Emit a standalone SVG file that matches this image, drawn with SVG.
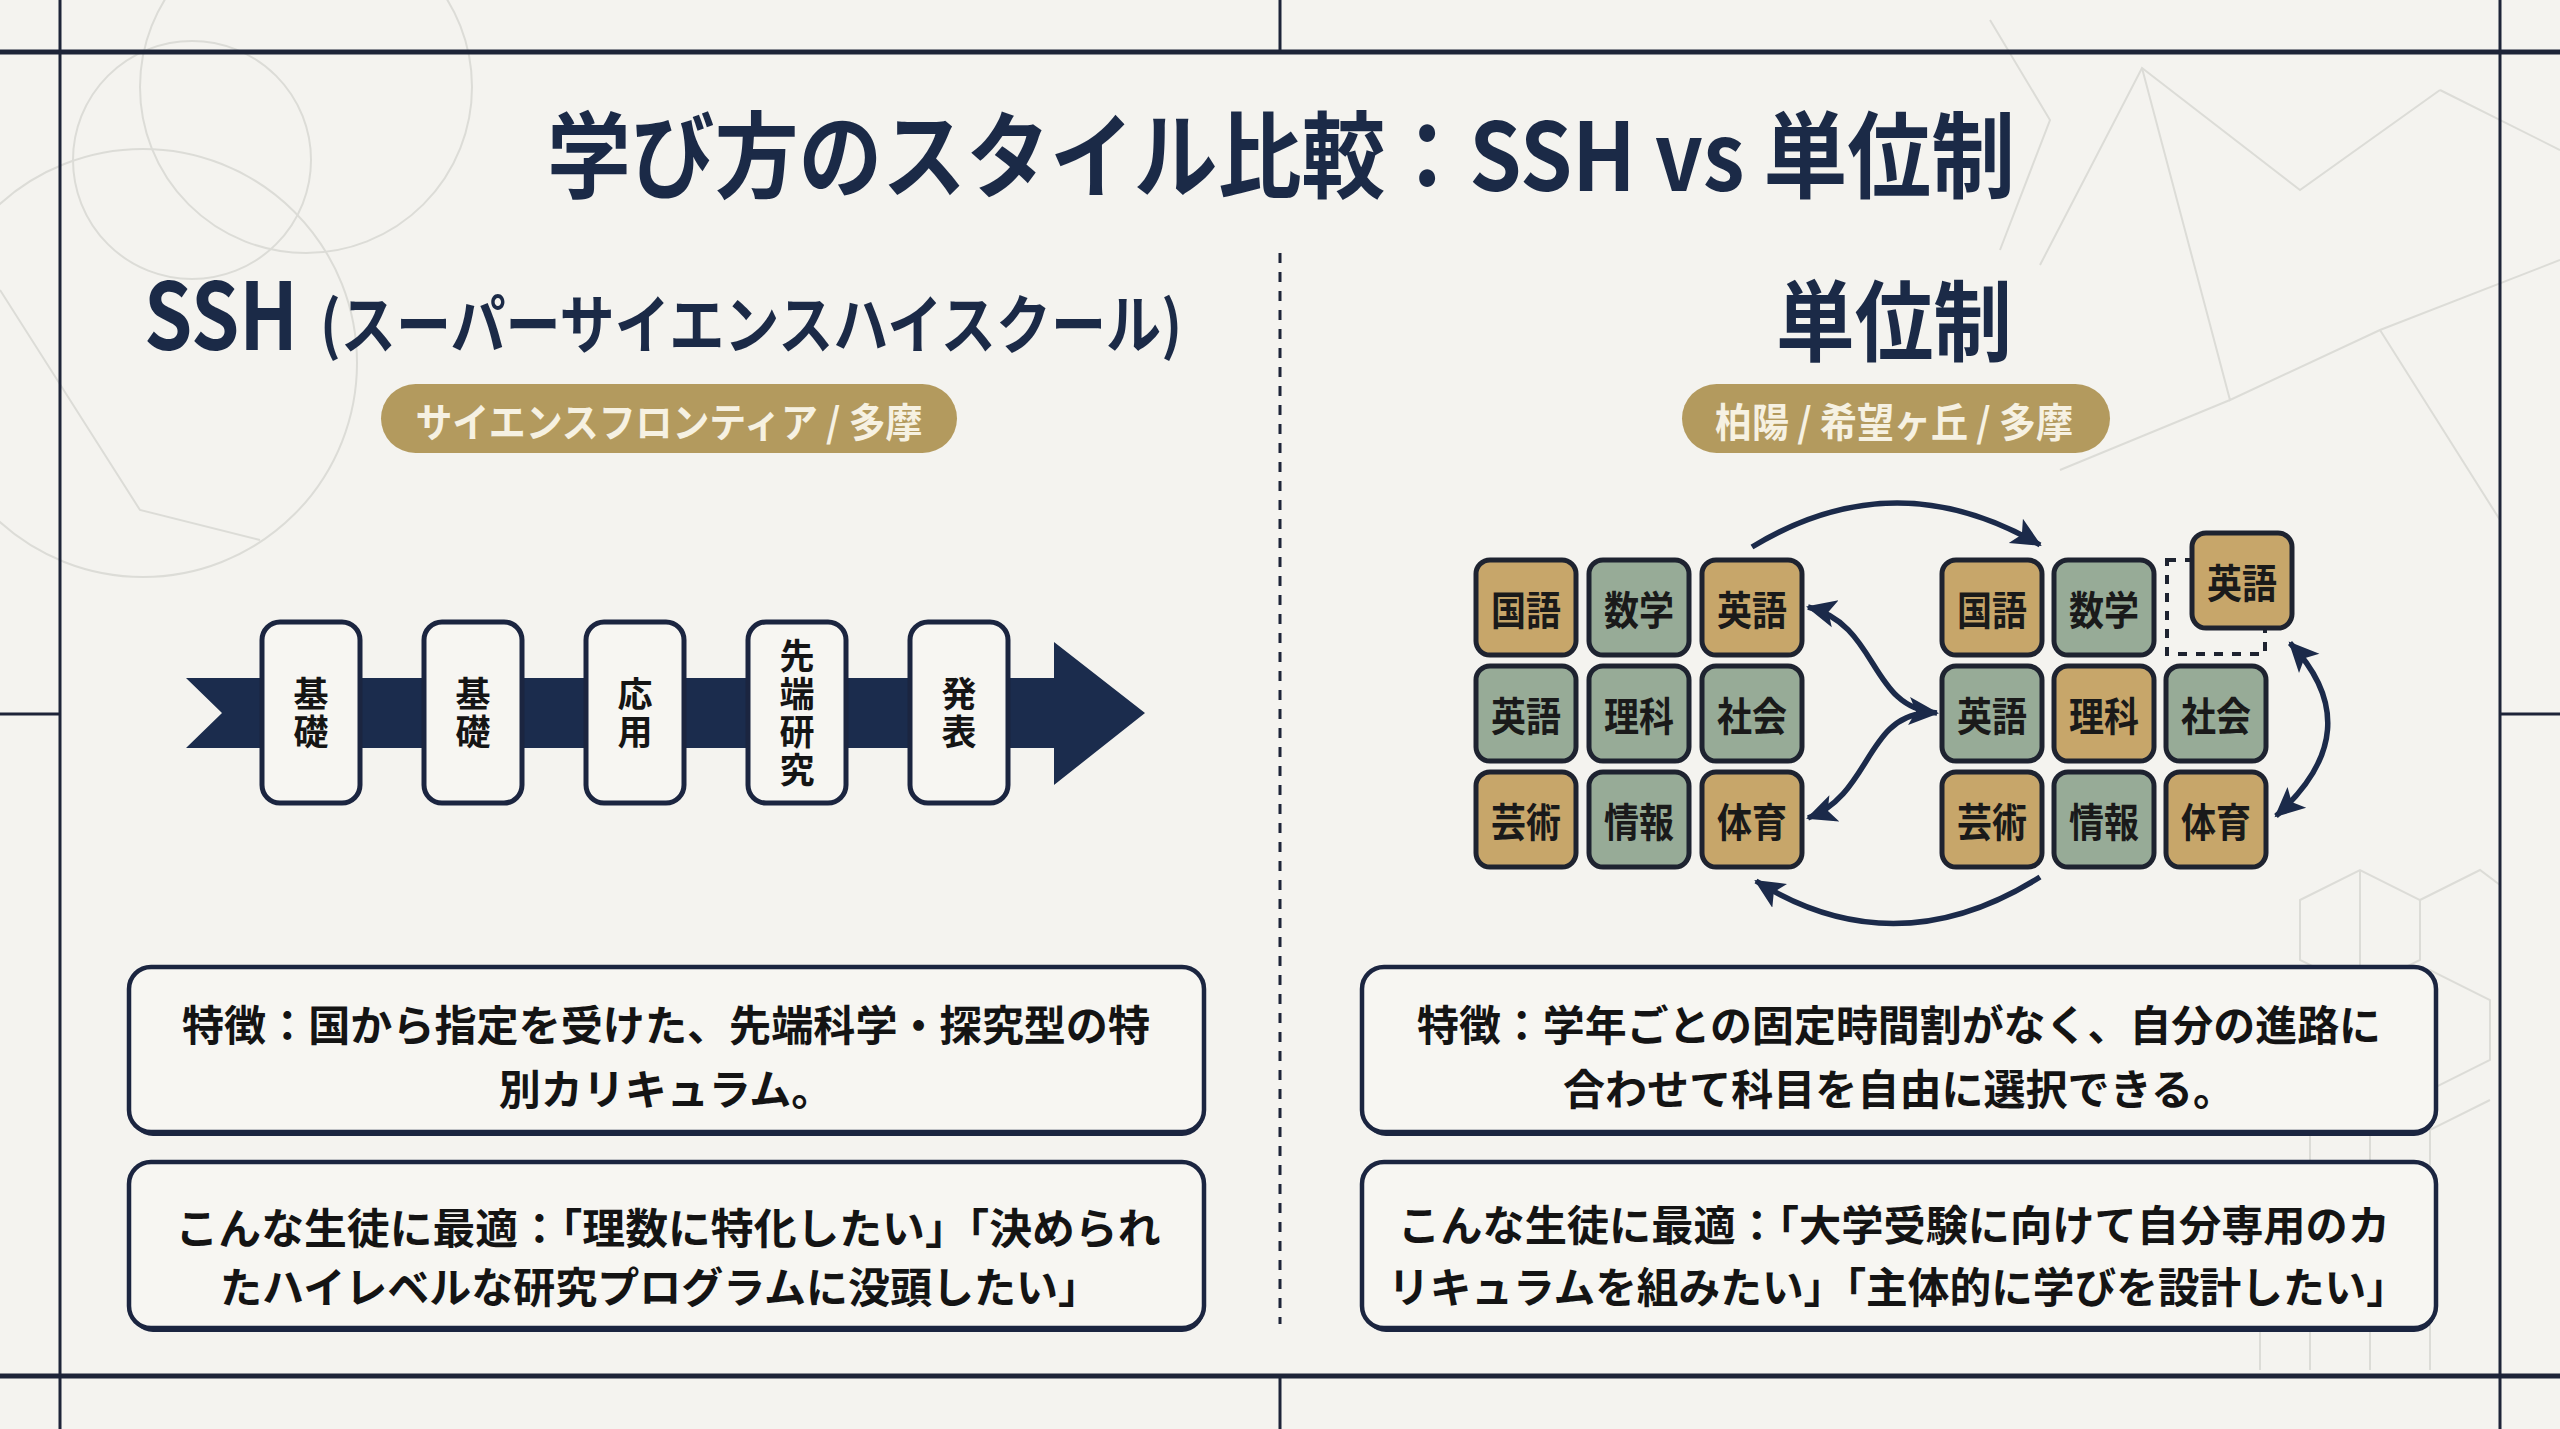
<svg xmlns="http://www.w3.org/2000/svg" width="2560" height="1429" viewBox="0 0 2560 1429">
<defs>
<style>
.jp{font-family:"Noto Sans CJK JP","Noto Sans",sans-serif;font-weight:700}
.navy{fill:#1b2a47}
.frame{stroke:#1d2438;fill:none}
.deco{stroke:#dcdcd7;stroke-width:2;fill:none}
.stepbox{fill:#f7f6f2;stroke:#1b2540;stroke-width:5}
.steptxt{font-size:35px;fill:#151515;text-anchor:middle;writing-mode:vertical-rl;letter-spacing:3px}
.tile{stroke:#1e2330;stroke-width:5}
.gold{fill:#c7a66a}
.green{fill:#97ab97}
.tiletxt{font-size:40px;fill:#1a1a1a;text-anchor:middle;dominant-baseline:central}
.pill{fill:#b39a5e}
.pilltxt{font-size:40px;fill:#f6f1e2;text-anchor:middle;dominant-baseline:central}
.card{fill:#f7f6f2;stroke:#1b2540;stroke-width:4.5}
.cardsh{fill:#1b2540}
.cardtxt{font-size:42px;fill:#141414;text-anchor:middle;dominant-baseline:central}
.conn{fill:none;stroke:#1b2a4a;stroke-width:5.5}
</style>
<marker id="ah" markerUnits="userSpaceOnUse" markerWidth="34" markerHeight="30" refX="28" refY="15" orient="auto-start-reverse" viewBox="0 0 34 30">
<path d="M0,1 L30,15 L0,29 L7,15 Z" fill="#1b2a4a"/>
</marker>
</defs>

<rect x="0" y="0" width="2560" height="1429" fill="#f4f3ef"/>

<g id="decoration">
<circle class="deco" cx="306" cy="87" r="166"/>
<circle class="deco" cx="192" cy="160" r="119"/>
<circle class="deco" cx="143" cy="363" r="214"/>
<path class="deco" d="M0,290 L140,510 L260,540"/>
<path class="deco" d="M2040,265 L2142,68 L2300,190 L2440,90"/>
<path class="deco" d="M2142,68 L2230,400 L2380,330 L2560,260"/>
<path class="deco" d="M2380,330 L2500,520 M2230,400 L2060,470"/>
<path class="deco" d="M1990,20 L2050,120 L2000,250 M2440,90 L2560,150"/>
<path class="deco" d="M2300,900 L2360,870 L2420,900 L2420,960 L2360,990 L2300,960 Z M2360,870 L2360,990 M2420,900 L2480,870 L2500,885"/>
<path class="deco" d="M2250,1000 L2310,970 L2370,1000 L2370,1060 L2310,1090 L2250,1060 Z M2370,1000 L2430,970 L2490,1000 L2490,1060 L2430,1090 L2370,1060"/>
<path class="deco" d="M2250,1100 L2310,1130 L2370,1100 L2430,1130 L2490,1100 M2310,1130 L2310,1370 M2370,1100 L2370,1370 M2430,1130 L2430,1370 M2260,1200 L2260,1370"/>
</g>

<g id="frame">
<line class="frame" x1="0" y1="52" x2="2560" y2="52" stroke-width="5"/>
<line class="frame" x1="0" y1="1376" x2="2560" y2="1376" stroke-width="5"/>
<line class="frame" x1="60" y1="0" x2="60" y2="1429" stroke-width="3"/>
<line class="frame" x1="2500" y1="0" x2="2500" y2="1429" stroke-width="3"/>
<line class="frame" x1="1280" y1="0" x2="1280" y2="52" stroke-width="3"/>
<line class="frame" x1="1280" y1="1376" x2="1280" y2="1429" stroke-width="3"/>
<line class="frame" x1="0" y1="714" x2="60" y2="714" stroke-width="3"/>
<line class="frame" x1="2500" y1="714" x2="2560" y2="714" stroke-width="3"/>
<line class="frame" x1="1280" y1="253" x2="1280" y2="1324" stroke-width="3" stroke-dasharray="10 9"/>
</g>

<g id="title">
<text class="jp navy" x="1281" y="150" font-size="94" text-anchor="middle" dominant-baseline="central" textLength="1468" lengthAdjust="spacingAndGlyphs">学び方のスタイル比較：SSH vs 単位制</text>
</g>

<g id="ssh-heading">
<text class="jp navy" x="144" y="350" font-size="93" textLength="154" lengthAdjust="spacingAndGlyphs">SSH</text>
<text class="jp navy" x="320" y="320" font-size="64" dominant-baseline="central" textLength="862" lengthAdjust="spacingAndGlyphs">(スーパーサイエンスハイスクール)</text>
</g>
<g id="ssh-pill">
<rect class="pill" x="381" y="384" width="576" height="69" rx="34.5"/>
<text class="jp pilltxt" x="669" y="420" textLength="507" lengthAdjust="spacingAndGlyphs">サイエンスフロンティア / 多摩</text>
</g>

<g id="credit-heading">
<text class="jp navy" x="1894" y="315" font-size="88" text-anchor="middle" dominant-baseline="central" textLength="236" lengthAdjust="spacingAndGlyphs">単位制</text>
</g>
<g id="credit-pill">
<rect class="pill" x="1682" y="384" width="428" height="69" rx="34.5"/>
<text class="jp pilltxt" x="1894" y="420" textLength="358" lengthAdjust="spacingAndGlyphs">柏陽 / 希望ヶ丘 / 多摩</text>
</g>

<g id="ssh-flow-arrow">
<polygon fill="#1b2c4d" points="186,678 1054,678 1054,642 1145,713 1054,785 1054,748 186,748 222,713"/>
</g>
<g id="step-1">
<rect class="stepbox" x="262" y="622" width="98" height="181" rx="18"/>
<text class="jp steptxt" x="311" y="714">基礎</text>
</g>
<g id="step-2">
<rect class="stepbox" x="424" y="622" width="98" height="181" rx="18"/>
<text class="jp steptxt" x="473" y="714">基礎</text>
</g>
<g id="step-3">
<rect class="stepbox" x="586" y="622" width="98" height="181" rx="18"/>
<text class="jp steptxt" x="635" y="714">応用</text>
</g>
<g id="step-4">
<rect class="stepbox" x="748" y="622" width="98" height="181" rx="18"/>
<text class="jp steptxt" x="797" y="714">先端研究</text>
</g>
<g id="step-5">
<rect class="stepbox" x="910" y="622" width="98" height="181" rx="18"/>
<text class="jp steptxt" x="959" y="714">発表</text>
</g>

<g id="grid-before">
<g id="b-kokugo"><rect class="tile gold" x="1476" y="560" width="100" height="95" rx="14"/><text class="jp tiletxt" x="1526" y="608" textLength="70" lengthAdjust="spacingAndGlyphs">国語</text></g>
<g id="b-sugaku"><rect class="tile green" x="1589" y="560" width="100" height="95" rx="14"/><text class="jp tiletxt" x="1639" y="608" textLength="70" lengthAdjust="spacingAndGlyphs">数学</text></g>
<g id="b-eigo1"><rect class="tile gold" x="1702" y="560" width="100" height="95" rx="14"/><text class="jp tiletxt" x="1752" y="608" textLength="70" lengthAdjust="spacingAndGlyphs">英語</text></g>
<g id="b-eigo2"><rect class="tile green" x="1476" y="666" width="100" height="95" rx="14"/><text class="jp tiletxt" x="1526" y="714" textLength="70" lengthAdjust="spacingAndGlyphs">英語</text></g>
<g id="b-rika"><rect class="tile green" x="1589" y="666" width="100" height="95" rx="14"/><text class="jp tiletxt" x="1639" y="714" textLength="70" lengthAdjust="spacingAndGlyphs">理科</text></g>
<g id="b-shakai"><rect class="tile green" x="1702" y="666" width="100" height="95" rx="14"/><text class="jp tiletxt" x="1752" y="714" textLength="70" lengthAdjust="spacingAndGlyphs">社会</text></g>
<g id="b-geijutsu"><rect class="tile gold" x="1476" y="772" width="100" height="95" rx="14"/><text class="jp tiletxt" x="1526" y="820" textLength="70" lengthAdjust="spacingAndGlyphs">芸術</text></g>
<g id="b-joho"><rect class="tile green" x="1589" y="772" width="100" height="95" rx="14"/><text class="jp tiletxt" x="1639" y="820" textLength="70" lengthAdjust="spacingAndGlyphs">情報</text></g>
<g id="b-taiiku"><rect class="tile gold" x="1702" y="772" width="100" height="95" rx="14"/><text class="jp tiletxt" x="1752" y="820" textLength="70" lengthAdjust="spacingAndGlyphs">体育</text></g>
</g>

<g id="grid-after">
<g id="a-slot"><rect x="2167" y="560" width="98" height="94" fill="none" stroke="#1e2330" stroke-width="4" stroke-dasharray="9 9"/></g>
<g id="a-kokugo"><rect class="tile gold" x="1942" y="560" width="100" height="95" rx="14"/><text class="jp tiletxt" x="1992" y="608" textLength="70" lengthAdjust="spacingAndGlyphs">国語</text></g>
<g id="a-sugaku"><rect class="tile green" x="2054" y="560" width="100" height="95" rx="14"/><text class="jp tiletxt" x="2104" y="608" textLength="70" lengthAdjust="spacingAndGlyphs">数学</text></g>
<g id="a-eigo-moved"><rect class="tile gold" x="2192" y="533" width="100" height="95" rx="14"/><text class="jp tiletxt" x="2242" y="581" textLength="70" lengthAdjust="spacingAndGlyphs">英語</text></g>
<g id="a-eigo2"><rect class="tile green" x="1942" y="666" width="100" height="95" rx="14"/><text class="jp tiletxt" x="1992" y="714" textLength="70" lengthAdjust="spacingAndGlyphs">英語</text></g>
<g id="a-rika"><rect class="tile gold" x="2054" y="666" width="100" height="95" rx="14"/><text class="jp tiletxt" x="2104" y="714" textLength="70" lengthAdjust="spacingAndGlyphs">理科</text></g>
<g id="a-shakai"><rect class="tile green" x="2166" y="666" width="100" height="95" rx="14"/><text class="jp tiletxt" x="2216" y="714" textLength="70" lengthAdjust="spacingAndGlyphs">社会</text></g>
<g id="a-geijutsu"><rect class="tile gold" x="1942" y="772" width="100" height="95" rx="14"/><text class="jp tiletxt" x="1992" y="820" textLength="70" lengthAdjust="spacingAndGlyphs">芸術</text></g>
<g id="a-joho"><rect class="tile green" x="2054" y="772" width="100" height="95" rx="14"/><text class="jp tiletxt" x="2104" y="820" textLength="70" lengthAdjust="spacingAndGlyphs">情報</text></g>
<g id="a-taiiku"><rect class="tile gold" x="2166" y="772" width="100" height="95" rx="14"/><text class="jp tiletxt" x="2216" y="820" textLength="70" lengthAdjust="spacingAndGlyphs">体育</text></g>
</g>

<g id="connectors">
<path class="conn" d="M1752,547 Q1895,460 2040,545" marker-end="url(#ah)"/>
<path class="conn" d="M2040,877 Q1895,968 1756,881" marker-end="url(#ah)"/>
<path class="conn" d="M1808,607 C1880,625 1868,708 1937,713" marker-start="url(#ah)" marker-end="url(#ah)"/>
<path class="conn" d="M1808,818 C1870,795 1866,718 1925,713" marker-start="url(#ah)"/>
<path class="conn" d="M2290,643 Q2372,730 2276,816" marker-start="url(#ah)" marker-end="url(#ah)"/>
</g>

<g id="ssh-feature">
<rect class="cardsh" x="131" y="971" width="1073" height="165" rx="22"/>
<rect class="card" x="129" y="967" width="1075" height="165" rx="22"/>
<text class="jp cardtxt" x="666" y="1022" textLength="968" lengthAdjust="spacingAndGlyphs">特徴：国から指定を受けた、先端科学・探究型の特</text>
<text class="jp cardtxt" x="666" y="1086">別カリキュラム。</text>
</g>
<g id="ssh-fit">
<rect class="cardsh" x="131" y="1166" width="1073" height="166" rx="22"/>
<rect class="card" x="129" y="1162" width="1075" height="166" rx="22"/>
<text class="jp cardtxt" x="668" y="1225" textLength="985" lengthAdjust="spacingAndGlyphs">こんな生徒に最適：「理数に特化したい」「決められ</text>
<text class="jp cardtxt" x="660" y="1284" textLength="880" lengthAdjust="spacingAndGlyphs">たハイレベルな研究プログラムに没頭したい」</text>
</g>
<g id="credit-feature">
<rect class="cardsh" x="1364" y="971" width="1072" height="165" rx="22"/>
<rect class="card" x="1362" y="967" width="1074" height="165" rx="22"/>
<text class="jp cardtxt" x="1899" y="1022" textLength="964" lengthAdjust="spacingAndGlyphs">特徴：学年ごとの固定時間割がなく、自分の進路に</text>
<text class="jp cardtxt" x="1899" y="1086" textLength="672" lengthAdjust="spacingAndGlyphs">合わせて科目を自由に選択できる。</text>
</g>
<g id="credit-fit">
<rect class="cardsh" x="1364" y="1166" width="1072" height="166" rx="22"/>
<rect class="card" x="1362" y="1162" width="1074" height="166" rx="22"/>
<text class="jp cardtxt" x="1894" y="1222" textLength="992" lengthAdjust="spacingAndGlyphs">こんな生徒に最適：「大学受験に向けて自分専用のカ</text>
<text class="jp cardtxt" x="1898" y="1284" textLength="1020" lengthAdjust="spacingAndGlyphs">リキュラムを組みたい」「主体的に学びを設計したい」</text>
</g>
</svg>
